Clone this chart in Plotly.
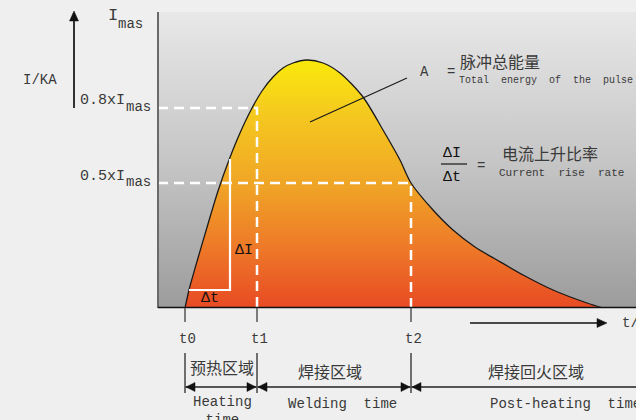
import plotly.graph_objects as go

# ---------------- data ----------------
t_curve = [0.0, 0.4, 1.3, 2.3, 3.3, 4.4, 5.5, 6.6, 7.7, 8.8, 9.8, 10.8, 12.2, 13.8, 15.5, 17.8,
           19.8, 21.5, 22.6, 24.8, 26.8, 29.0, 31.2, 34.0, 36.8, 40.2, 41.8]
i_curve = [0.0, 0.072, 0.20, 0.336, 0.468, 0.592, 0.70, 0.792, 0.868, 0.924, 0.96, 0.98, 0.992, 0.98, 0.94, 0.844,
           0.712, 0.592, 0.50, 0.392, 0.312, 0.244, 0.192, 0.128, 0.072, 0.02, 0.0]

t_marks = [0.0, 7.2, 22.6]
t_labels = ["t0", "t1", "t2"]
levels = [0.8, 0.5]
level_labels = ["0.8xI", "0.5xI"]
level_ends = [7.2, 22.6]

delta_t = [0.4, 4.5]       # Δt leg of rise triangle
delta_i = [0.072, 0.596]   # ΔI leg of rise triangle

zone_cn = ["预热区域", "焊接区域", "焊接回火区域"]
zone_en = ["Heating<br>time", "Welding  time", "Post-heating  time"]

# ---------------- geometry helpers ----------------
W, H = 636, 420
PL, PR, PT, PB = 158, 636, 12, 308
XMIN, XMAX = -2.7, 45.1
YMAX = 1.184

def tx(t):
    return PL + (t - XMIN) / (XMAX - XMIN) * (PR - PL)

def iy(v):
    return PB - v / YMAX * (PB - PT)

def px(x):
    return x / W

def py(y):
    return 1 - y / H

MONO = "Liberation Mono, DejaVu Sans Mono, monospace"
CJK = "Noto Sans CJK SC, sans-serif"
TXT = "#3a3a3a"

fig = go.Figure()

# gray background gradient
fig.add_trace(go.Scatter(
    x=[XMIN, XMAX, XMAX, XMIN, XMIN], y=[0, 0, YMAX, YMAX, 0],
    mode="lines", line=dict(width=0), fill="toself",
    fillgradient=dict(type="vertical", start=0, stop=YMAX,
                      colorscale=[[0, "#9c9c9c"], [0.5, "#c6c6c6"], [1, "#e8e8e8"]]),
    hoverinfo="skip"))

# pulse curve
fig.add_trace(go.Scatter(
    x=t_curve, y=i_curve, mode="lines", line=dict(color="#1a1a1a", width=1.3, shape="spline", smoothing=0.8),
    fill="tozeroy",
    fillgradient=dict(type="vertical", start=0, stop=0.99,
                      colorscale=[[0, "#e84a24"], [0.25, "#ee7a28"], [0.5, "#f0a526"],
                                  [0.8, "#f5cb1e"], [1, "#f9e90a"]]),
    hoverinfo="skip"))

# dashed guide lines
for lv, te in zip(levels, level_ends):
    fig.add_trace(go.Scatter(x=[XMIN, te, te], y=[lv, lv, 0], mode="lines",
                             line=dict(color="white", width=2.5, dash="10px,6px"), hoverinfo="skip"))

# rise triangle
fig.add_trace(go.Scatter(x=[delta_t[1], delta_t[1], delta_t[0]], y=[delta_i[1], delta_i[0], delta_i[0]],
                         mode="lines", line=dict(color="white", width=2.2), hoverinfo="skip"))

# pointer line for A
fig.add_trace(go.Scatter(x=[12.5, 22.2], y=[0.744, 0.92], mode="lines",
                         line=dict(color="#1a1a1a", width=1.2), hoverinfo="skip"))

shapes = []
annotations = []

def line(x0, y0, x1, y1, color="#555555", width=1.5):
    shapes.append(dict(type="line", xref="paper", yref="paper",
                       x0=px(x0), y0=py(y0), x1=px(x1), y1=py(y1),
                       line=dict(color=color, width=width)))

def tri(pts, color="#111111"):
    path = "M " + " L ".join(f"{px(a):.5f},{py(b):.5f}" for a, b in pts) + " Z"
    shapes.append(dict(type="path", xref="paper", yref="paper", path=path,
                       fillcolor=color, line=dict(color=color, width=0.5)))

def text(s, x, y, size=14, font=MONO, anchor="center", color=TXT):
    annotations.append(dict(text=s, x=px(x), y=py(y), xref="paper", yref="paper",
                            xanchor=anchor, yanchor="middle", showarrow=False,
                            font=dict(family=font, size=size, color=color)))

# axes lines
line(PL, PT, PL, PB, color="#6a6a6a", width=2)
line(PL, PB - 0.5, W + 5, PB - 0.5, color="#111111", width=1.5)

# y-axis arrow + labels
line(74, 20, 74, 108, color="#333333", width=2)
tri([(74, 11), (69.5, 21), (78.5, 21)])
text("I/KA", 40, 80, 14)
text("I", 113, 16, 17)
text("mas", 130, 24, 14)
for lv, lab in zip(levels, level_labels):
    yy = iy(lv)
    text(lab, 127, yy - 7, 15, anchor="right")
    text("mas", 153, yy - 1, 14, anchor="right")

# rise labels
text("ΔI", tx(delta_t[1]) + 3, iy(0.23), 15, anchor="left", color="#111111")
text("Δt", tx(2.5), iy(0.04), 15, color="#111111")

# A annotation
text("A", 424, 72, 14)
text("=", 451, 72, 14)
text("脉冲总能量", 458, 61, 16, font=CJK, anchor="left")
text("Total  energy  of  the  pulse", 457, 81, 10, anchor="left")

# current rise rate
text("ΔI", 452, 153, 15, color="#111111")
line(441, 164, 467, 164, color="#222222", width=1.3)
text("Δt", 452, 177, 15, color="#111111")
text("=", 481, 166, 14)
text("电流上升比率", 500, 153, 16, font=CJK, anchor="left")
text("Current  rise  rate", 497, 173, 11, anchor="left")

# time axis marks
for tm, lab in zip(t_marks, t_labels):
    xx = tx(tm)
    line(xx, PB, xx, 322, color="#555555", width=1.5)
    text(lab, xx + 2, 339, 14)
    line(xx, 353, xx, 393, color="#444444", width=1.5)

# time arrow
line(470, 323, 600, 323, color="#111111", width=1.5)
tri([(607, 323), (597, 318.5), (597, 327.5)])
text("t/ms", 620, 323, 14, anchor="left")

# zone arrows
YA = 387
seg_bounds = [tx(t_marks[0]), tx(t_marks[1]), tx(t_marks[2]), W + 30]
line(seg_bounds[0], YA, W + 5, YA, color="#555555", width=1.8)
for a, b in zip(seg_bounds[:-1], seg_bounds[1:]):
    tri([(a + 1, YA), (a + 10, YA - 4.5), (a + 10, YA + 4.5)])
    tri([(b - 1, YA), (b - 10, YA - 4.5), (b - 10, YA + 4.5)])

# zone labels
text(zone_cn[0], (tx(t_marks[0]) + tx(t_marks[1])) / 2 + 1, 367, 16, font=CJK)
text(zone_cn[1], 330, 371, 16, font=CJK)
text(zone_cn[2], 536, 371, 16, font=CJK)
annotations.append(dict(text=zone_en[0], x=px(222), y=py(392), xref="paper", yref="paper",
                        xanchor="center", yanchor="top", showarrow=False, align="center",
                        font=dict(family=MONO, size=14, color=TXT)))
text(zone_en[1], 342, 404, 14)
text(zone_en[2], 488, 404, 14, anchor="left")

fig.update_layout(
    width=W, height=H,
    margin=dict(l=0, r=0, t=0, b=0, pad=0, autoexpand=False),
    paper_bgcolor="#efefef", plot_bgcolor="rgba(0,0,0,0)",
    showlegend=False, hovermode=False,
    xaxis=dict(range=[XMIN, XMAX], domain=[PL / W, PR / W], visible=False, fixedrange=True),
    yaxis=dict(range=[0, YMAX], domain=[1 - PB / H, 1 - PT / H], visible=False, fixedrange=True),
    shapes=shapes, annotations=annotations,
)

fig.write_html("out.html", config={"displayModeBar": False},
               post_script="document.body.style.margin='0';document.body.style.background='#efefef';")
